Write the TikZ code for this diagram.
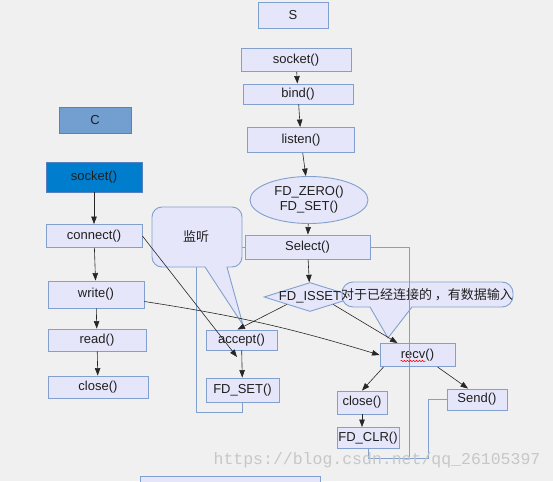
\documentclass[tikz,border=0pt]{standalone}
\usepackage{fontspec}
\setmainfont{Liberation Sans}
\newfontfamily\cjkfont{Noto Sans CJK SC}
\newfontfamily\markfont{Liberation Mono}
\usetikzlibrary{shapes.geometric,arrows.meta,decorations.pathmorphing}

\definecolor{bgcol}{RGB}{240,240,240}
\definecolor{boxfill}{RGB}{230,230,250}
\definecolor{boxline}{RGB}{130,160,205}
\definecolor{cfill}{RGB}{114,159,207}
\definecolor{cline}{RGB}{85,130,190}
\definecolor{sockfill}{RGB}{0,125,205}

\begin{document}
\begin{tikzpicture}[x=1pt, y=-1pt,
  font=\fontsize{13}{15}\selectfont, text=black!88,
  box/.style={draw=boxline, fill=boxfill, line width=0.9pt, inner sep=0pt},
  arr/.style={draw=black!85, line width=0.6pt, -{Triangle[length=7.5pt,width=5.5pt]}},
  loopline/.style={draw=boxline, line width=0.9pt},
  tipshape/.style={draw=boxline, fill=boxfill, line width=0.9pt}]

  % Background
  \clip (0,0) rectangle (553,481);
  \fill[bgcol] (0,0) rectangle (553,481);

  % Server side
  \node[box, minimum width=70, minimum height=26] (s) at (293,15) {S};
  \node[box, minimum width=110, minimum height=23] (ssocket) at (296,60) {socket()};
  \node[box, minimum width=110, minimum height=20] (bind) at (298,94) {bind()};
  \node[box, minimum width=107, minimum height=25] (listen) at (301,140) {listen()};
  \node[box, ellipse, minimum width=118, minimum height=47, align=center] (zero) at (309,200) {FD\_ZERO()\\FD\_SET()};
  \node[box, minimum width=125, minimum height=24] (select) at (307.5,247) {Select()};
  \node[box, diamond, minimum width=92, minimum height=29, label=center:{FD\_ISSET}] (isset) at (310,297) {};
  \node[box, minimum width=71, minimum height=20] (accept) at (241.5,340) {accept()};
  \node[box, minimum width=73, minimum height=24] (fdset) at (242.5,390) {FD\_SET()};
  \node[box, minimum width=75, minimum height=23] (recv) at (417.5,355) {recv()};
  \node[box, minimum width=50, minimum height=23] (sclose) at (362,402.5) {close()};
  \node[box, minimum width=62, minimum height=21] (fdclr) at (368,438) {FD\_CLR()};
  \node[box, minimum width=60, minimum height=21] (send) at (477,399.5) {Send()};
  \node[box, minimum width=180, minimum height=20] (next) at (230,486) {};

  % Client side
  \node[box, draw=cline, fill=cfill, minimum width=72, minimum height=26] (c) at (95,120) {C};
  \node[box, draw=cline, fill=sockfill, minimum width=96, minimum height=30] (csocket) at (94,177) {socket()};
  \node[box, minimum width=96, minimum height=23] (connect) at (94,236) {connect()};
  \node[box, minimum width=96, minimum height=27] (write) at (96,294.5) {write()};
  \node[box, minimum width=98, minimum height=22] (read) at (97,340) {read()};
  \node[box, minimum width=100, minimum height=22] (cclose) at (98,387) {close()};

  % Loop back to Select()
  \draw[loopline] (select.west) -| (196,412) -| (fdset.south);

  % Callouts
  \draw[tipshape] (205,267) [rounded corners=10] -- (152,267) -- (152,207) -- (242,207) -- (242,267) [sharp corners] -- (227,267) -- (243,325) -- cycle;
  \node[font=\cjkfont\fontsize{13}{15}\selectfont] (listentip) at (196,237) {监听};
  \draw[tipshape] (370,307) [rounded corners=11] -- (342,307) -- (342,282) -- (513,282) -- (513,307) [sharp corners] -- (412,307) -- (388,338) -- cycle;
  \node[font=\cjkfont\fontsize{13}{15}\selectfont] (inputtip) at (427,295) {对于已经连接的 ，有数据输入};

  \coordinate (rb) at (409,458);
  \draw[loopline] (select.east) -| (rb) -| (fdclr.south);
  \draw[loopline] (send.west) -| (428,458) -- (rb);

  % Arrows
  \draw[arr] (ssocket) -- (bind);
  \draw[arr] (bind) -- (listen);
  \draw[arr] (listen) -- (zero);
  \draw[arr] (zero) -- (select);
  \draw[arr] (select) -- (isset);
  \draw[arr] (isset.south west) -- ([xshift=-4]accept.north);
  \draw[arr] (isset.south east) -- ([xshift=-20]recv.north);
  \draw[arr] (accept) -- (fdset);
  \draw[arr] ([xshift=4]recv.south west) -- (sclose.north);
  \draw[arr] ([xshift=20]recv.south) -- ([xshift=-9]send.north);
  \draw[arr] (sclose.south) -- (sclose.south |- fdclr.north);

  \draw[arr] (csocket) -- (connect);
  \draw[arr] (connect) -- (write);
  \draw[arr] (write) -- (read);
  \draw[arr] (read) -- (cclose);
  \coordinate (accin) at (237,357);
  \draw[arr] (connect.east) -- (accin);
  \draw[arr] ([yshift=-7]write.east) to[bend left=4] (recv.west);

  % spell mark under recv
  \draw[red, line width=0.5pt, decorate, decoration={snake, amplitude=0.7pt, segment length=3pt}] ([xshift=-17,yshift=-6]recv.center) -- ++(25,0);

  % Watermark
  \node[font=\markfont\fontsize{16.5}{18}\selectfont, text=black!22] (mark) at (377,460) {https://blog.csdn.net/qq\_26105397};
\end{tikzpicture}
\end{document}
